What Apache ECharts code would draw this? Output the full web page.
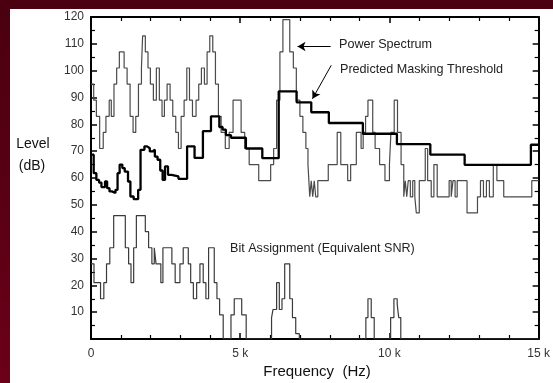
<!DOCTYPE html>
<html>
<head>
<meta charset="utf-8">
<script src="https://cdn.jsdelivr.net/npm/echarts@6/dist/echarts.min.js"></script>
<style>
  html, body { margin: 0; padding: 0; }
  #frame {
    position: relative; width: 553px; height: 383px;
    background: linear-gradient(180deg, #4a0010 0%, #5c0015 60%, #6c0019 100%);
  }
  #paper { position: absolute; left: 10px; top: 9px; right: 0; bottom: 0; background: #fff; }
  #chart { position: absolute; left: 0; top: 0; width: 553px; height: 383px; }
</style>
</head>
<body>
<div id="frame"><div id="paper"></div><div id="chart"></div></div>
<script>
// frequency in kHz where each step starts, level in dB
const specFreq = [0, 0.09, 0.18, 0.29, 0.41, 0.50, 0.61, 0.68, 0.77, 0.86, 0.95, 1.11, 1.21, 1.31, 1.41, 1.50,
  1.59, 1.69, 1.73, 1.82, 1.91, 1.99, 2.09, 2.19, 2.29, 2.38, 2.46, 2.55, 2.65, 2.74, 2.84, 2.93, 3.02, 3.12,
  3.21, 3.30, 3.40, 3.52, 3.61, 3.70, 3.80, 3.89, 3.98, 4.08, 4.17, 4.27, 4.36, 4.50, 4.63, 4.76, 5.03, 5.15,
  5.30, 5.62, 6.02, 6.12, 6.22, 6.33, 6.43, 6.66, 6.78, 6.88, 7.00, 7.10, 7.20, 7.27, 7.33, 7.38, 7.43, 7.48,
  7.53, 7.60, 7.95, 8.25, 8.37, 8.60, 8.70, 8.89, 9.05, 9.12, 9.20, 9.28, 9.44, 9.52, 9.67, 9.85, 10.00, 10.05,
  10.16, 10.27, 10.39, 10.48, 10.53, 10.58, 10.63, 10.70, 10.78, 10.85, 10.90, 11.00, 11.20, 11.28, 11.40,
  11.49, 11.60, 12.00, 12.07, 12.13, 12.20, 12.27, 12.60, 12.95, 13.05, 13.15, 13.25, 13.35, 13.48, 13.60,
  13.83, 14.77, 15];
const specLevel = [95, 89, 83, 71, 77, 83, 89, 83, 95, 101, 107, 101, 95, 83, 77, 83,
  95, 101, 113, 107, 101, 95, 89, 101, 89, 83, 89, 95, 89, 83, 77, 71, 83, 89,
  101, 89, 83, 89, 95, 101, 95, 107, 113, 107, 95, 83, 77, 71, 77, 89, 77, 71,
  65, 59, 65, 71, 89, 107, 119, 107, 101, 89, 83, 77, 71, 65, 53, 59, 53, 59,
  53, 59, 65, 77, 65, 59, 65, 77, 71, 77, 83, 89, 77, 71, 65, 59, 65, 77,
  89, 77, 65, 53, 59, 53, 59, 53, 59, 53, 47, 59, 71, 59, 53,
  65, 53, 59, 53, 59, 53, 59, 47, 53, 59, 53, 59, 53, 65, 59,
  53, 59, 59];

const threshFreq = [0, 0.09, 0.18, 0.27, 0.35, 0.47, 0.54, 0.62, 0.70, 0.82, 0.89, 0.96, 1.05, 1.13, 1.24,
  1.32, 1.43, 1.58, 1.66, 1.79, 1.88, 1.97, 2.06, 2.14, 2.23, 2.32, 2.40, 2.48, 2.58, 2.70, 2.93, 3.22, 3.47,
  3.75, 4.02, 4.30, 4.41, 4.52, 4.69, 5.19, 5.74, 6.29, 6.89, 7.38, 7.97, 9.11, 10.25, 11.37, 12.52, 14.74, 15];
const threshLevel = [68.7, 61.8, 59.3, 58.3, 56.6, 58.7, 56.2, 55, 54.4, 55.6, 61.8, 65, 63.7, 62.4, 58.7,
  53.1, 52.1, 55.6, 70.5, 71.8, 71.1, 69.9, 70.5, 68, 66.8, 62.8, 59.3, 64.3, 61.2, 60.6, 59.7, 71.8, 67.5,
  77.5, 83, 79, 78, 76, 75, 71, 67.4, 92.3, 88.2, 84.5, 80.5, 76.5, 72.6, 68.7, 64.9, 72.4, 72.4];

const bitFreq = [0, 0.10, 0.32, 0.43, 0.52, 0.63, 0.76, 1.15, 1.26, 1.34, 1.43, 1.52, 1.82, 1.93, 2.04, 2.12,
  2.18, 2.34, 2.41, 2.71, 2.82, 2.98, 3.09, 3.26, 3.34, 3.43, 3.54, 3.65, 3.76, 3.85, 3.94, 4.13, 4.22, 4.31,
  4.43, 4.69, 4.80, 5.05, 5.20, 6.05, 6.10, 6.22, 6.31, 6.40, 6.49, 6.66, 6.75, 6.86, 6.98, 9.21, 9.28, 9.39,
  9.49, 10.04, 10.15, 10.26, 10.31, 10.38, 15];
const bitLevel = [28, 21, 15, 21, 28, 34, 46, 34, 28, 21, 34, 46, 40, 34, 28, 34,
  28, 21, 34, 28, 21, 28, 34, 28, 21, 15, 21, 28, 21, 15, 34, 21, 15, 9,
  0, 9, 15, 9, 0, 8, 11, 21, 11, 15, 28, 15, 8, 2, 0, 8, 15, 8,
  0, 8, 15, 13, 8, 0, 0];

const yTicks = [0, 120, 10];
const xTicks = [0, 15, 5];

const zip = (xs, ys) => xs.map((x, i) => [x, ys[i]]);
const font = "'Liberation Sans', Arial, sans-serif";

const chart = echarts.init(document.getElementById("chart"), null, { renderer: "canvas" });

const frameLine = { show: true, onZero: false, lineStyle: { color: "#000", width: 2 } };
const xTick = { show: true, inside: true, length: 6, lineStyle: { color: "#000", width: 1.5 } };
const xMinor = { show: true, splitNumber: 5, length: 4, lineStyle: { color: "#000", width: 1.2 } };
const yTick = { show: true, inside: true, length: 6, lineStyle: { color: "#000", width: 1.5 } };
const yMinor = { show: true, splitNumber: 2, length: 4, lineStyle: { color: "#000", width: 1.2 } };

const option = {
  animation: false,
  grid: { left: 91, right: 8, top: 17, bottom: 44, containLabel: false },
  xAxis: [
    {
      type: "value", min: xTicks[0], max: xTicks[1], interval: xTicks[2], position: "bottom",
      axisLine: frameLine, axisTick: xTick, minorTick: xMinor, splitLine: { show: false },
      axisLabel: {
        color: "#333", fontSize: 12, fontFamily: font, margin: 9,
        formatter: (v) => (v === 0 ? "0" : v + " k"),
      },
    },
    {
      type: "value", min: xTicks[0], max: xTicks[1], interval: xTicks[2], position: "top",
      axisLine: frameLine, axisTick: xTick, minorTick: xMinor, splitLine: { show: false },
      axisLabel: { show: false },
    },
  ],
  yAxis: [
    {
      type: "value", min: yTicks[0], max: yTicks[1], interval: yTicks[2], position: "left",
      axisLine: frameLine, axisTick: yTick, minorTick: yMinor, splitLine: { show: false },
      axisLabel: {
        color: "#333", fontSize: 12, fontFamily: font, margin: 7,
        formatter: (v) => (v === 0 ? "" : String(v)),
      },
    },
    {
      type: "value", min: yTicks[0], max: yTicks[1], interval: yTicks[2], position: "right",
      axisLine: frameLine, axisTick: yTick, minorTick: yMinor, splitLine: { show: false },
      axisLabel: { show: false },
    },
  ],
  series: [
    {
      name: "Power Spectrum", type: "line", step: "end", data: zip(specFreq, specLevel),
      showSymbol: false, lineStyle: { color: "#4a4a4a", width: 1.2 }, z: 3,
      markLine: {
        silent: true, symbol: ["none", "arrow"], symbolSize: [7, 8],
        lineStyle: { color: "#000", width: 1, type: "solid" }, label: { show: false },
        data: [
          [{ coord: [8.03, 109] }, { coord: [6.92, 109] }],
          [{ coord: [8.05, 102] }, { coord: [7.42, 89.5] }],
        ],
      },
    },
    {
      name: "Predicted Masking Threshold", type: "line", step: "end", data: zip(threshFreq, threshLevel),
      showSymbol: false, lineStyle: { color: "#000", width: 2.3 }, z: 4,
    },
    {
      name: "Bit Assignment", type: "line", step: "end", data: zip(bitFreq, bitLevel),
      showSymbol: false, lineStyle: { color: "#3a3a3a", width: 1.2 }, z: 3,
    },
  ],
  graphic: [
    { type: "text", left: 339, top: 38, style: { text: "Power Spectrum", font: "12.6px " + font, fill: "#222" } },
    { type: "text", left: 340, top: 63, style: { text: "Predicted Masking Threshold", font: "12.6px " + font, fill: "#222" } },
    { type: "text", left: 230, top: 242, style: { text: "Bit Assignment (Equivalent SNR)", font: "12.6px " + font, fill: "#222" } },
    { type: "text", x: 33, y: 144, style: { text: "Level", font: "14px " + font, fill: "#111", align: "center", verticalAlign: "middle" } },
    { type: "text", x: 32, y: 166, style: { text: "(dB)", font: "14px " + font, fill: "#111", align: "center", verticalAlign: "middle" } },
    { type: "text", x: 317, y: 372, style: { text: "Frequency  (Hz)", font: "15px " + font, fill: "#111", align: "center", verticalAlign: "middle" } },
  ],
};

chart.setOption(option);
</script>
</body>
</html>
